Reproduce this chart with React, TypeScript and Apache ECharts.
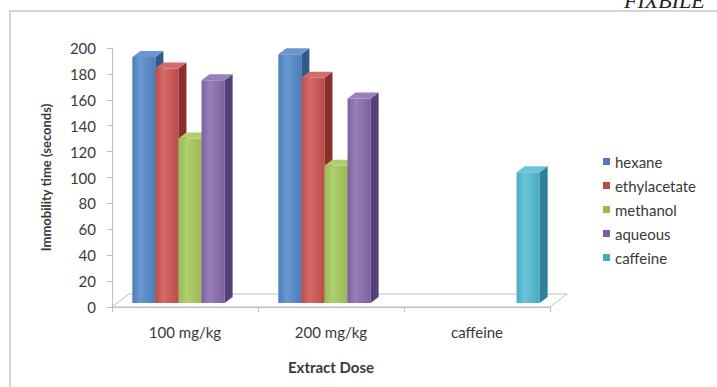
import React, { useEffect, useRef } from "react";
import * as echarts from "echarts";

const categories = ["100 mg/kg", "200 mg/kg", "caffeine"];
const seriesNames = ["hexane", "ethylacetate", "methanol", "aqueous", "caffeine"];
const hexane = [190, 192, null];
const ethylacetate = [181, 174, null];
const methanol = [127, 106, null];
const aqueous = [172, 158, null];
const caffeine = [null, null, 101];
const yTicks = [0, 200, 20];

const frontColors = ["#4a7ebb", "#be4b48", "#98b954", "#7d60a0", "#46aac5"];
const lightColors = ["#6a97d0", "#d36c69", "#b0cf70", "#9880b8", "#6cc3da"];
const sideColors = ["#2f5a8c", "#8c2f2c", "#6f8c36", "#57407a", "#2f8199"];

const allValues = [hexane, ethylacetate, methanol, aqueous, caffeine];

const DX = 5, DY = -4; // bar placement in depth
const BDX = 8, BDY = -6; // bar depth
const FDX = 17, FDY = -13; // floor depth

function makeBarSeries(idx: number) {
  const vals = allValues[idx];
  const data: any[] = [];
  vals.forEach((v, c) => {
    if (v !== null) data.push([c, v]);
  });
  return {
    type: "custom",
    name: seriesNames[idx],
    itemStyle: { color: frontColors[idx] },
    encode: { x: 0, y: 1 },
    z: 3,
    data,
    renderItem: (params: any, api: any) => {
      const cat = api.value(0);
      const val = api.value(1);
      const base = api.coord([cat, 0]);
      const top = api.coord([cat, val]);
      const band = api.size([1, 0])[0];
      const slot = band * 0.158;
      const x0 = base[0] - 2.5 * slot + idx * slot + DX;
      const yb = base[1] + DY;
      const yt = top[1] + DY;
      return {
        type: "group",
        children: [
          {
            type: "rect",
            shape: { x: x0, y: yt, width: slot, height: yb - yt },
            style: {
              fill: new echarts.graphic.LinearGradient(0, 0, 1, 0, [
                { offset: 0, color: frontColors[idx] },
                { offset: 0.35, color: lightColors[idx] },
                { offset: 1, color: frontColors[idx] },
              ]),
            },
          },
          {
            type: "polygon",
            shape: {
              points: [
                [x0 + slot, yt],
                [x0 + slot + BDX, yt + BDY],
                [x0 + slot + BDX, yb + BDY],
                [x0 + slot, yb],
              ],
            },
            style: { fill: sideColors[idx] },
          },
          {
            type: "polygon",
            shape: {
              points: [
                [x0, yt],
                [x0 + BDX, yt + BDY],
                [x0 + slot + BDX, yt + BDY],
                [x0 + slot, yt],
              ],
            },
            style: { fill: lightColors[idx] },
          },
        ],
      };
    },
  };
}

export default function App() {
  const ref = useRef<HTMLDivElement>(null);
  useEffect(() => {
    if (!ref.current) return;
    const chart = echarts.init(ref.current, null, { renderer: "svg" });
    const font = "Lato, 'Open Sans', sans-serif";
    const floorSeries = {
      type: "custom",
      name: "floor",
      z: 1,
      silent: true,
      data: [[0, 0]],
      encode: { x: 0, y: 1 },
      renderItem: (params: any, api: any) => {
        const cs = params.coordSys;
        const x = cs.x, y = cs.y + cs.height, w = cs.width;
        return {
          type: "polygon",
          shape: {
            points: [
              [x, y],
              [x + w, y],
              [x + w + FDX, y + FDY],
              [x + FDX, y + FDY],
            ],
          },
          style: { fill: "#ffffff", stroke: "#bfbfbf", lineWidth: 1 },
        };
      },
    };
    chart.setOption({
      animation: false,
      backgroundColor: "#ffffff",
      textStyle: { fontFamily: font },
      graphic: [
        {
          type: "rect",
          shape: { x: 10, y: 11, width: 720, height: 390 },
          style: { fill: "none", stroke: "#d4d4d4", lineWidth: 2 },
          z: 0,
        },
        {
          type: "text",
          x: 624,
          y: -11,
          style: {
            text: "FIXBILE",
            font: "italic 22px 'Liberation Serif', serif",
            fill: "#222222",
          },
        },
      ],
      legend: {
        orient: "vertical",
        left: 598,
        top: 149,
        icon: "rect",
        itemWidth: 7,
        itemHeight: 7,
        itemGap: 9,
        data: seriesNames,
        textStyle: { fontSize: 15, color: "#3a3a3a", fontFamily: font },
      },
      grid: { left: 112, right: 167, top: 48, bottom: 80 },
      xAxis: {
        type: "category",
        data: categories,
        name: "Extract Dose",
        nameLocation: "middle",
        nameGap: 52,
        nameTextStyle: { fontSize: 15, fontWeight: "bold", color: "#3a3a3a" },
        axisLine: { show: true, lineStyle: { color: "#bfbfbf" } },
        axisTick: { show: true, length: 5, lineStyle: { color: "#bfbfbf" } },
        axisLabel: { fontSize: 15, color: "#3a3a3a", margin: 17 },
      },
      yAxis: {
        type: "value",
        min: yTicks[0],
        max: yTicks[1],
        interval: yTicks[2],
        name: "Immobility time (seconds)",
        nameLocation: "middle",
        nameRotate: 90,
        nameGap: 60,
        nameTextStyle: { fontSize: 13, fontWeight: "bold", color: "#3a3a3a" },
        axisLine: { show: true, lineStyle: { color: "#bfbfbf" } },
        axisTick: { show: true, length: 5, lineStyle: { color: "#bfbfbf" } },
        axisLabel: { fontSize: 15, color: "#3a3a3a", margin: 16 },
        splitLine: { show: false },
      },
      series: [floorSeries, ...seriesNames.map((_, i) => makeBarSeries(i))],
    });
    return () => chart.dispose();
  }, []);
  return (
    <div
      ref={ref}
      style={{ position: "fixed", left: 0, top: 0, width: 717, height: 387 }}
    />
  );
}
